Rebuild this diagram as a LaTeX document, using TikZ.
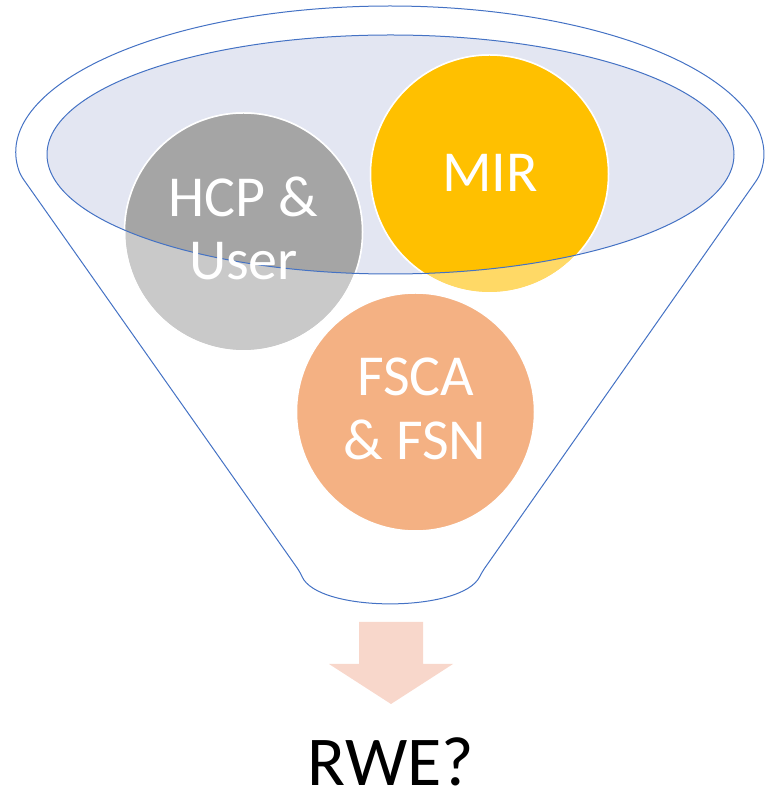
\documentclass[tikz,border=0pt]{standalone}
\usepackage{fontspec}
\setmainfont{Carlito}
\definecolor{fblue}{HTML}{4472C4}
\definecolor{lav}{HTML}{E3E6F2}
\definecolor{gdark}{HTML}{A5A5A5}
\definecolor{glight}{HTML}{C9C9C9}
\definecolor{ydark}{HTML}{FFC000}
\definecolor{ylight}{HTML}{FFD966}
\definecolor{orng}{HTML}{F4B183}
\definecolor{arrcol}{HTML}{F8D7CB}
\begin{document}
\begin{tikzpicture}[x=1pt,y=1pt,
  bubble/.style={circle, minimum size=238pt, inner sep=0pt, draw=white, line width=1.5pt},
  bubbletext/.style={text=white, anchor=base, inner sep=0pt, font=\fontsize{58}{63}\selectfont},
  outline/.style={draw=fblue, line width=1pt}]
\useasboundingbox (0,0) rectangle (775,793);
% outer funnel
\draw[outline, rounded corners=5pt] (390,638) ++(187.7:373pt and 149pt)
  arc[start angle=187.7, end angle=-8.5, x radius=373pt, y radius=149pt]
  -- (482,221) .. controls (462,180) and (318,180) .. (300,221) -- cycle;
% inner ellipse fill
\fill[lav] (390.5,638.5) ellipse[x radius=343.5pt, y radius=119.5pt];
% circles
\node[bubble, fill=glight] (hcp) at (243.5,561) {};
\node[bubble, fill=ylight] (mir) at (489.5,619) {};
\node[bubble, fill=orng] (fsca) at (415.5,381) {};
\begin{scope}
  \clip (390.5,638.5) ellipse[x radius=343.5pt, y radius=119.5pt];
  \fill[gdark] (hcp.center) circle[radius=119pt];
  \fill[ydark] (mir.center) circle[radius=119pt];
\end{scope}
\draw[white, line width=1.5pt] (hcp.center) circle[radius=119pt];
\draw[white, line width=1.5pt] (mir.center) circle[radius=119pt];
% inner ellipse outline
\draw[outline] (390.5,638.5) ellipse[x radius=343.5pt, y radius=119.5pt];
% texts
\node[bubbletext] (hcp1) at (243.5,576) {HCP \&};
\node[bubbletext] (hcp2) at (243.5,513) {User};
\node[bubbletext] (mirt) at (490,601) {MIR};
\node[bubbletext] (fs1) at (416,397) {FSCA};
\node[bubbletext] (fs2) at (415,333) {\& FSN};
% arrow
\fill[arrcol] (359,171) -- (423,171) -- (423,129) -- (453,129) -- (391,89)
  -- (329,129) -- (359,129) -- cycle;
\node[anchor=base, inner sep=0pt, text depth=0pt, font=\fontsize{70}{80}\selectfont] (rwe) at (391,7) {RWE?};
\end{tikzpicture}
\end{document}
